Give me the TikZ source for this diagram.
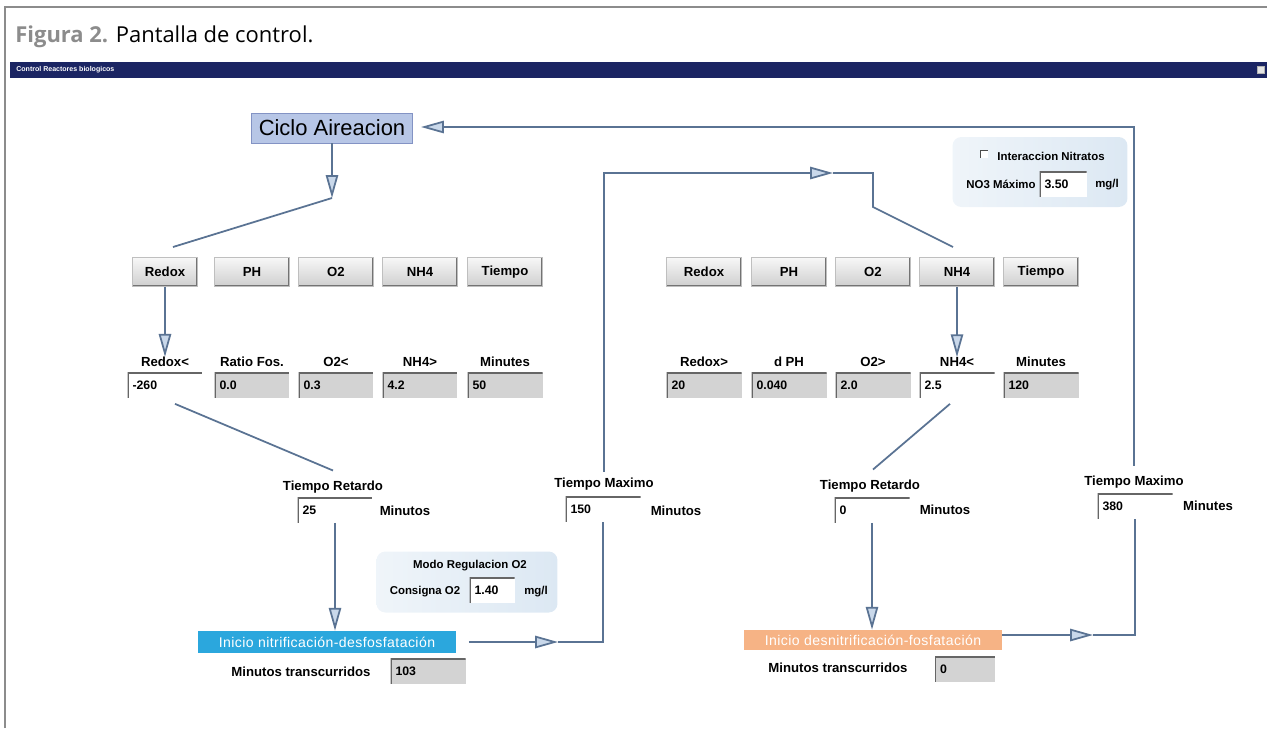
\documentclass[tikz,border=0pt]{standalone}
\usepackage{fontspec}
\setmainfont{Liberation Sans}
\newfontfamily\capfont{Open Sans}
\usetikzlibrary{arrows.meta}
\definecolor{winbar}{HTML}{1B2563}
\definecolor{cicloblue}{HTML}{B7C6E6}
\definecolor{cicloedge}{HTML}{8393C4}
\definecolor{flowline}{HTML}{5A7393}
\definecolor{tipfill}{HTML}{C9D8EA}
\definecolor{panelblue}{HTML}{DCE8F3}
\definecolor{nitroblue}{HTML}{2BA7DD}
\definecolor{denitorange}{HTML}{F6B385}
\definecolor{fieldgray}{HTML}{D3D3D3}
\definecolor{framegray}{HTML}{8C8C8C}

\begin{document}
\begin{tikzpicture}[
    x=0.02cm, y=-0.02cm,
    lbl/.style={font=\fontsize{7.5}{8.5}\selectfont\bfseries, inner sep=0pt},
    btn/.style={minimum width=1.5cm, minimum height=0.58cm, inner sep=0pt, top color=gray!6, bottom color=gray!38, draw=gray!50,
        font=\fontsize{7.5}{8.5}\selectfont\bfseries,
        path picture={\draw[black!55, line width=1.4pt] (path picture bounding box.south west) -- (path picture bounding box.south east) -- (path picture bounding box.north east);}},
    field/.style={minimum height=0.5cm, text width=#1, align=left, inner xsep=0.1cm, inner ysep=0pt, fill=fieldgray,
        font=\fontsize{7}{8}\selectfont\bfseries,
        path picture={\draw[black!60, line width=1.3pt] (path picture bounding box.south west) -- (path picture bounding box.north west) -- (path picture bounding box.north east);}},
    field/.default=1.3cm,
    entry/.style={field=#1, fill=white},
    entry/.default=1.3cm,
    panel/.style={rounded corners=5pt, left color=white!55!panelblue, right color=panelblue, inner sep=0pt},
    flow/.style={draw=flowline, line width=1pt},
    flowtip/.style={flow, -{Triangle[length=13pt, width=7pt, fill=tipfill]}},
]
    \useasboundingbox (0,0) rectangle (1267,728);

    % frame, caption and window bar
    \draw[framegray, line width=1.6pt] (5,728) -- (5,7) -- (1267,7);
    \node[anchor=base west, inner sep=0pt, font=\capfont\fontsize{12.5}{14}\selectfont] (cap) at (15,42)
        {\textcolor{framegray}{\bfseries Figura 2.} Pantalla de control.};
    \node[fill=winbar, anchor=north west, minimum width=25.14cm, minimum height=0.32cm, inner sep=0pt] (bar) at (10,62) {};
    \node[anchor=west, text=white, inner sep=0pt, font=\fontsize{4}{5}\selectfont\bfseries] (bartxt) at (16,70) {Control Reactores biologicos};
    \node[fill=gray!20, draw=gray!60, minimum size=0.15cm, inner sep=0pt] (close) at (1261,70) {};

    % panels
    \node[panel, minimum width=3.5cm, minimum height=1.4cm] (nitpanel) at (1040,172) {};
    \node[panel, minimum width=3.62cm, minimum height=1.22cm] (o2panel) at (467,582) {};

    \node[fill=cicloblue, draw=cicloedge, minimum width=3.22cm, minimum height=0.6cm, inner sep=0pt,
        font=\fontsize{12.5}{14}\selectfont] (ciclo) at (332,128) {Ciclo Aireacion};

    % aeration side
    \node[btn, minimum width=1.3cm] (bL1) at (165,272) {Redox};
    \node[btn] (bL2) at (252,272) {PH};
    \node[btn] (bL3) at (336,272) {O2};
    \node[btn] (bL4) at (420,272) {NH4};
    \node[btn] (bL5) at (505,272) {Tiempo};

    \node[lbl] (lL1) at (165,362) {Redox<};
    \node[lbl] (lL2) at (252,362) {Ratio Fos.};
    \node[lbl] (lL3) at (336,362) {O2<};
    \node[lbl] (lL4) at (420,362) {NH4>};
    \node[lbl] (lL5) at (505,362) {Minutes};

    \node[entry] (fL1) at (165,385) {-260};
    \node[field] (fL2) at (252,385) {0.0};
    \node[field] (fL3) at (336,385) {0.3};
    \node[field] (fL4) at (420,385) {4.2};
    \node[field] (fL5) at (505,385) {50};

    \node[lbl] (trLlbl) at (333,487) {Tiempo Retardo};
    \node[entry] (trL) at (335,510) {25};
    \node[lbl] (trLunit) at (405,511) {Minutos};

    \node[lbl] (tmLlbl) at (604,484) {Tiempo Maximo};
    \node[entry] (tmL) at (603,509) {150};
    \node[lbl] (tmLunit) at (676,511) {Minutos};

    \node[lbl, font=\fontsize{6.5}{7.5}\selectfont\bfseries] (o2mode) at (470,566) {Modo Regulacion O2};
    \node[lbl, font=\fontsize{6.5}{7.5}\selectfont\bfseries] (o2set) at (425,592) {Consigna O2};
    \node[entry=0.7cm] (o2val) at (492,590) {1.40};
    \node[lbl, font=\fontsize{6.5}{7.5}\selectfont\bfseries] (o2unit) at (536,592) {mg/l};

    \node[fill=nitroblue, text=white, minimum width=5.18cm, minimum height=0.44cm, inner sep=0pt,
        font=\fontsize{8}{9}\selectfont\addfontfeatures{LetterSpace=3}] (inicioL) at (327,642) {Inicio nitrificación-desfosfatación};
    \node[lbl] (elapLlbl) at (301,672) {Minutos transcurridos};
    \node[field] (elapL) at (428,671) {103};

    % denitrification side
    \node[btn] (bR1) at (704,272) {Redox};
    \node[btn] (bR2) at (789,272) {PH};
    \node[btn] (bR3) at (873,272) {O2};
    \node[btn] (bR4) at (957,272) {NH4};
    \node[btn] (bR5) at (1041,272) {Tiempo};

    \node[lbl] (lR1) at (704,362) {Redox>};
    \node[lbl] (lR2) at (789,362) {d PH};
    \node[lbl] (lR3) at (873,362) {O2>};
    \node[lbl] (lR4) at (957,362) {NH4<};
    \node[lbl] (lR5) at (1041,362) {Minutes};

    \node[field] (fR1) at (704,385) {20};
    \node[field] (fR2) at (789,385) {0.040};
    \node[field] (fR3) at (873,385) {2.0};
    \node[entry] (fR4) at (957,385) {2.5};
    \node[field] (fR5) at (1041,385) {120};

    \node[lbl] (trRlbl) at (870,486) {Tiempo Retardo};
    \node[entry] (trR) at (872,510) {0};
    \node[lbl] (trRunit) at (945,510) {Minutos};

    \node[lbl] (tmRlbl) at (1134,482) {Tiempo Maximo};
    \node[entry] (tmR) at (1135,506) {380};
    \node[lbl] (tmRunit) at (1208,506) {Minutes};

    \node[fill=white, minimum size=0.16cm, inner sep=0pt,
        path picture={\draw[black!70, line width=1pt] (path picture bounding box.south west) -- (path picture bounding box.north west) -- (path picture bounding box.north east);}] (chk) at (984,154) {};
    \node[lbl, font=\fontsize{6.5}{7.5}\selectfont\bfseries] (nitlbl) at (1051,156) {Interaccion Nitratos};
    \node[lbl, font=\fontsize{6.5}{7.5}\selectfont\bfseries] (no3lbl) at (1001,184) {NO3 Máximo};
    \node[entry=0.74cm] (no3val) at (1063,184) {3.50};
    \node[lbl, font=\fontsize{6.5}{7.5}\selectfont\bfseries] (no3unit) at (1107,185) {mg/l};

    \node[fill=denitorange, text=white, minimum width=5.16cm, minimum height=0.4cm, inner sep=0pt,
        font=\fontsize{8}{9}\selectfont\addfontfeatures{LetterSpace=3}] (inicioR) at (873,640) {Inicio desnitrificación-fosfatación};
    \node[lbl] (elapRlbl) at (838,668) {Minutos transcurridos};
    \node[field=1.0cm] (elapR) at (965,669) {0};

    % connectors
    \coordinate (bend1) at (332,198);
    \coordinate (redoxin) at (173,247);
    \draw[flowtip] (ciclo.south) -- (bend1);
    \draw[flow] (bend1) -- (redoxin);
    \draw[flowtip] (bL1.south) -- (lL1.north);
    \draw[flow] ([shift={(10,6)}]fL1.south) -- ([shift={(0,-10)}]trLlbl.north);
    \draw[flowtip] (trL.south) -- (trL.south |- inicioL.north);

    \coordinate (tipL) at (558,642);
    \draw[flowtip] ([shift={(12,0)}]inicioL.east) -- (tipL);
    \draw[flow] (tipL) -| (tmL.south);
    \coordinate (tipTop) at (833,173);
    \coordinate (dropR) at (873,207);
    \coordinate (nh4in) at (953,247);
    \draw[flowtip] ([shift={(0,-6)}]tmLlbl.north) |- (tipTop);
    \draw[flow] (tipTop) -| (dropR) -- (nh4in);

    \draw[flowtip] (bR4.south) -- (lR4.north);
    \draw[flow] ([shift={(-7,6)}]fR4.south) -- ([shift={(3,-10)}]trRlbl.north);
    \draw[flowtip] (trR.south) -- (trR.south |- inicioR.north);

    \coordinate (tipR) at (1093,635);
    \draw[flowtip] (inicioR.east |- tipR) -- (tipR);
    \draw[flow] (tipR) -| (tmR.south);
    \coordinate (fbtip) at (421,127);
    \draw[flowtip] ([shift={(0,-10)}]tmRlbl.north) |- (fbtip);
\end{tikzpicture}
\end{document}
